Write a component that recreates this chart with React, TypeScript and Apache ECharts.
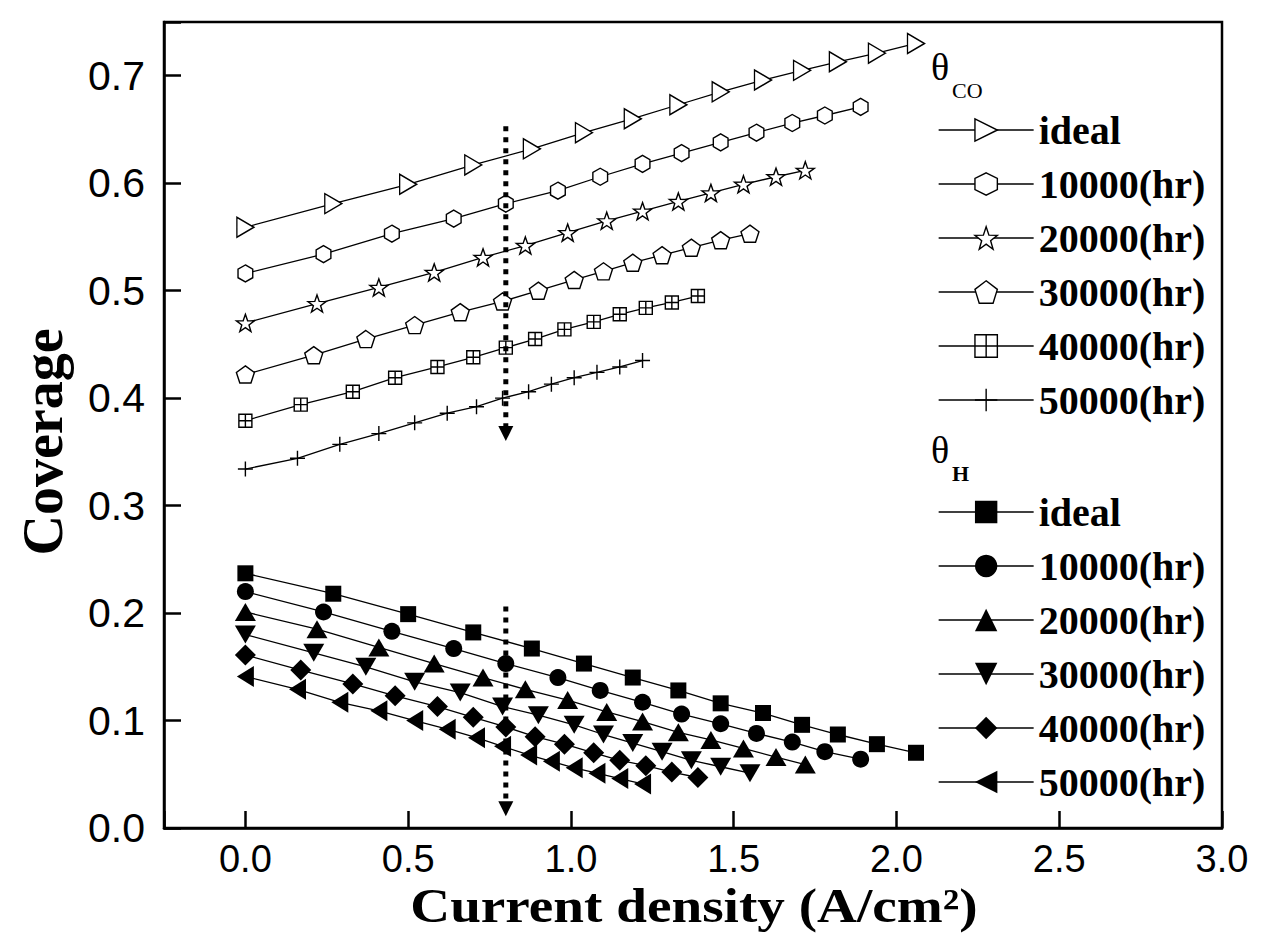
import React, { useEffect, useRef } from "react";
import * as echarts from "echarts";

// ---------- data ----------
const legendLabels = ["ideal", "10000(hr)", "20000(hr)", "30000(hr)", "40000(hr)", "50000(hr)"];

const xIdeal = [0, 0.27, 0.5, 0.7, 0.88, 1.04, 1.19, 1.33, 1.46, 1.59, 1.71, 1.82, 1.94, 2.06];
const x10k = [0, 0.24, 0.45, 0.64, 0.8, 0.96, 1.09, 1.22, 1.34, 1.46, 1.57, 1.68, 1.78, 1.89];
const x20k = [0, 0.22, 0.41, 0.58, 0.73, 0.86, 0.99, 1.11, 1.22, 1.33, 1.43, 1.53, 1.63, 1.72];
const x30k = [0, 0.21, 0.37, 0.52, 0.66, 0.79, 0.9, 1.01, 1.1, 1.19, 1.28, 1.37, 1.46, 1.55];
const x40k = [0, 0.17, 0.33, 0.46, 0.59, 0.7, 0.8, 0.89, 0.98, 1.07, 1.15, 1.23, 1.31, 1.39];
const x50k = [0, 0.16, 0.29, 0.41, 0.52, 0.62, 0.71, 0.79, 0.87, 0.94, 1.01, 1.08, 1.15, 1.22];

const coIdeal = [0.559, 0.581, 0.599, 0.617, 0.632, 0.647, 0.66, 0.673, 0.685, 0.696, 0.705, 0.713, 0.721, 0.73];
const co10k = [0.516, 0.534, 0.553, 0.567, 0.581, 0.593, 0.606, 0.618, 0.628, 0.638, 0.647, 0.656, 0.663, 0.671];
const co20k = [0.47, 0.488, 0.503, 0.517, 0.531, 0.542, 0.554, 0.565, 0.574, 0.583, 0.591, 0.599, 0.606, 0.612];
const co30k = [0.422, 0.44, 0.455, 0.468, 0.48, 0.49, 0.5, 0.51, 0.518, 0.526, 0.533, 0.54, 0.547, 0.553];
const co40k = [0.379, 0.394, 0.406, 0.419, 0.429, 0.438, 0.447, 0.455, 0.464, 0.471, 0.478, 0.484, 0.489, 0.495];
const co50k = [0.334, 0.344, 0.357, 0.367, 0.377, 0.386, 0.392, 0.4, 0.406, 0.413, 0.419, 0.424, 0.429, 0.435];

const hIdeal = [0.237, 0.218, 0.199, 0.182, 0.167, 0.153, 0.14, 0.128, 0.116, 0.107, 0.096, 0.087, 0.078, 0.07];
const h10k = [0.22, 0.201, 0.183, 0.167, 0.153, 0.14, 0.128, 0.117, 0.106, 0.097, 0.088, 0.08, 0.071, 0.064];
const h20k = [0.201, 0.185, 0.168, 0.153, 0.14, 0.129, 0.119, 0.108, 0.099, 0.089, 0.082, 0.074, 0.066, 0.059];
const h30k = [0.18, 0.163, 0.15, 0.136, 0.126, 0.113, 0.105, 0.096, 0.087, 0.079, 0.071, 0.063, 0.057, 0.051];
const h40k = [0.161, 0.147, 0.134, 0.123, 0.113, 0.103, 0.094, 0.085, 0.078, 0.07, 0.063, 0.058, 0.052, 0.047];
const h50k = [0.141, 0.129, 0.117, 0.109, 0.1, 0.092, 0.084, 0.076, 0.068, 0.062, 0.056, 0.051, 0.046, 0.041];

const arrowX = 0.8;
const arrowCO = [0.653, 0.367];
const arrowH = [0.206, 0.018];

// ---------- styles ----------
const SYM = {
  hex: "path://M0,-1L0.866,-0.5L0.866,0.5L0,1L-0.866,0.5L-0.866,-0.5Z",
  star: "path://M0,-1L0.235,-0.324L0.951,-0.309L0.38,0.124L0.588,0.809L0,0.4L-0.588,0.809L-0.38,0.124L-0.951,-0.309L-0.235,-0.324Z",
  pent: "path://M0,-1L0.951,-0.309L0.588,0.809L-0.588,0.809L-0.951,-0.309Z",
  boxPlus: "path://M-1,-1L1,-1L1,1L-1,1Z M0,-1L0,1 M-1,0L1,0",
  plus: "path://M0,-1L0,1 M-1,0L1,0",
};

type Spec = { xs: number[]; ys: number[]; symbol: string; size: any; rotate: number; hollow: boolean };

const coSpecs: Spec[] = [
  { xs: xIdeal, ys: coIdeal, symbol: "triangle", size: [20, 17], rotate: -90, hollow: true },
  { xs: x10k, ys: co10k, symbol: SYM.hex, size: 17, rotate: 0, hollow: true },
  { xs: x20k, ys: co20k, symbol: SYM.star, size: 18, rotate: 0, hollow: true },
  { xs: x30k, ys: co30k, symbol: SYM.pent, size: 18, rotate: 0, hollow: true },
  { xs: x40k, ys: co40k, symbol: SYM.boxPlus, size: 13, rotate: 0, hollow: true },
  { xs: x50k, ys: co50k, symbol: SYM.plus, size: 15, rotate: 0, hollow: false },
];
const hSpecs: Spec[] = [
  { xs: xIdeal, ys: hIdeal, symbol: "rect", size: 16, rotate: 0, hollow: false },
  { xs: x10k, ys: h10k, symbol: "circle", size: 17, rotate: 0, hollow: false },
  { xs: x20k, ys: h20k, symbol: "triangle", size: [21, 18], rotate: 0, hollow: false },
  { xs: x30k, ys: h30k, symbol: "triangle", size: [21, 18], rotate: 180, hollow: false },
  { xs: x40k, ys: h40k, symbol: "diamond", size: [21, 21], rotate: 0, hollow: false },
  { xs: x50k, ys: h50k, symbol: "triangle", size: [21, 17], rotate: 90, hollow: false },
];

const coNames = legendLabels.map((l) => "CO " + l);
const hNames = legendLabels.map((l) => "H " + l);

function itemStyleFor(s: Spec) {
  return {
    color: s.hollow ? "#fff" : "#000",
    borderColor: "#000",
    borderWidth: s.hollow || s.symbol === SYM.plus ? 1.4 : 0,
  };
}

function makeSeries(name: string, s: Spec) {
  return {
    type: "line",
    name,
    data: s.xs.map((x, i) => [x, s.ys[i]]),
    symbol: s.symbol,
    symbolSize: s.size,
    symbolRotate: s.rotate,
    symbolKeepAspect: true,
    showSymbol: true,
    showAllSymbol: true,
    lineStyle: { color: "#000", width: 1.3 },
    itemStyle: itemStyleFor(s),
    emphasis: { disabled: true },
    silent: true,
    z: 3,
  };
}

function arrowSeries(name: string, ys: number[]) {
  return {
    type: "line",
    name,
    data: [
      { value: [arrowX, ys[0]], symbol: "none" },
      { value: [arrowX, ys[1]], symbol: "triangle", symbolRotate: 180, symbolSize: [15, 15] },
    ],
    lineStyle: { color: "#000", width: 5, type: [5, 6], cap: "butt" },
    itemStyle: { color: "#000", borderWidth: 0 },
    emphasis: { disabled: true },
    silent: true,
    z: 5,
  };
}

const fmt1 = (v: number) => v.toFixed(1);
const xFmt = (v: number) => (Math.abs(v * 2 - Math.round(v * 2)) < 1e-6 ? fmt1(v) : "");
const yFmt = (v: number) => (Math.abs(v * 10 - Math.round(v * 10)) < 1e-6 ? fmt1(v) : "");

function legendFor(names: string[], specs: Spec[], top: number) {
  return {
    show: true,
    orient: "vertical",
    left: 933,
    top,
    itemWidth: 95,
    itemHeight: 28,
    itemGap: 0,
    selectedMode: false,
    formatter: (n: string) => n.replace(/^\S+ /, ""),
    textStyle: {
      fontFamily: "Liberation Serif",
      fontWeight: "bold",
      fontSize: 40,
      lineHeight: 54,
      color: "#000",
    },
    data: names.map((n, i) => ({
      name: n,
      itemStyle: itemStyleFor(specs[i]),
      lineStyle: { color: "#000", width: 1.3 },
    })),
  };
}

export default function App() {
  const ref = useRef<HTMLDivElement>(null);
  useEffect(() => {
    if (!ref.current) return;
    const chart = echarts.init(ref.current, undefined, { renderer: "svg" });
    const option: any = {
      animation: false,
      backgroundColor: "#fff",
      grid: {
        left: 164,
        right: 56,
        top: 22,
        bottom: 109,
        show: true,
        borderColor: "#000",
        borderWidth: 2.5,
        backgroundColor: "transparent",
      },
      xAxis: {
        type: "value",
        min: -0.25,
        max: 3,
        splitNumber: 6,
        axisLine: { show: true, onZero: false, lineStyle: { color: "#000", width: 2.5 } },
        axisTick: { show: true, inside: true, length: 17, lineStyle: { color: "#000", width: 2.5 } },
        axisLabel: { margin: 12, fontSize: 38, fontFamily: "Liberation Sans", color: "#000", formatter: xFmt },
        splitLine: { show: false },
      },
      yAxis: {
        type: "value",
        min: 0,
        max: 0.75,
        interval: 0.1,
        axisLine: { show: true, onZero: false, lineStyle: { color: "#000", width: 2.5 } },
        axisTick: { show: true, inside: true, length: 17, lineStyle: { color: "#000", width: 2.5 } },
        axisLabel: { margin: 19, fontSize: 41, fontFamily: "Liberation Sans", color: "#000", formatter: yFmt },
        splitLine: { show: false },
      },
      legend: [legendFor(coNames, coSpecs, 98), legendFor(hNames, hSpecs, 480)],
      graphic: [
        {
          type: "text",
          x: 43,
          y: 442,
          rotation: Math.PI / 2,
          style: {
            text: "Coverage",
            font: 'bold 56px "Liberation Serif"',
            fill: "#000",
            textAlign: "center",
            textVerticalAlign: "middle",
          },
        },
        {
          type: "text",
          x: 694,
          y: 906,
          scaleX: 1.15,
          style: {
            text: "Current density (A/cm²)",
            font: 'bold 48px "Liberation Serif"',
            fill: "#000",
            textAlign: "center",
            textVerticalAlign: "middle",
          },
        },
        { type: "text", x: 931, y: 67, style: { text: "θ", font: '38px "Liberation Serif"', fill: "#000", textAlign: "left", textVerticalAlign: "middle" } },
        { type: "text", x: 952, y: 90, style: { text: "CO", font: '22px "Liberation Serif"', fill: "#000", textAlign: "left", textVerticalAlign: "middle" } },
        { type: "text", x: 931, y: 450, style: { text: "θ", font: '38px "Liberation Serif"', fill: "#000", textAlign: "left", textVerticalAlign: "middle" } },
        { type: "text", x: 952, y: 473, style: { text: "H", font: 'bold 22px "Liberation Serif"', fill: "#000", textAlign: "left", textVerticalAlign: "middle" } },
      ],
      series: [
        ...coSpecs.map((s, i) => makeSeries(coNames[i], s)),
        ...hSpecs.map((s, i) => makeSeries(hNames[i], s)),
        arrowSeries("arrow CO", arrowCO),
        arrowSeries("arrow H", arrowH),
      ],
    };
    chart.setOption(option);
    return () => chart.dispose();
  }, []);
  return (
    <div
      ref={ref}
      style={{ position: "fixed", left: 0, top: 0, width: 1278, height: 937, background: "#fff" }}
    />
  );
}
